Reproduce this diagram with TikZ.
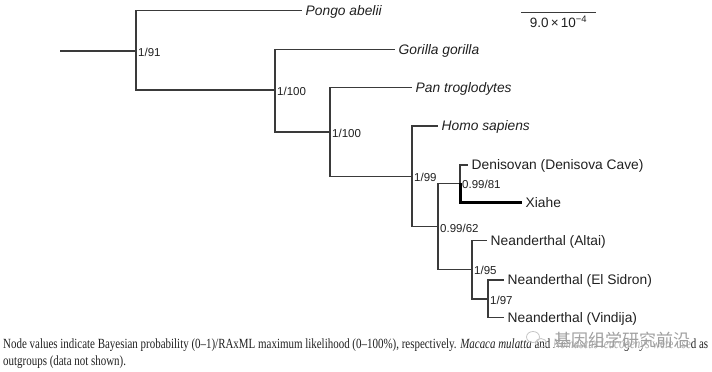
\documentclass[tikz,border=0pt]{standalone}
\usepackage{fontspec}
\usepackage{graphicx}
\setmainfont{Liberation Sans}
\newfontfamily\capfont{Liberation Serif}
\newfontfamily\cjkfont{Noto Sans CJK SC}

\definecolor{treegray}{HTML}{3A3A3A}
\definecolor{textgray}{HTML}{202020}

\tikzset{
  branch/.style={draw=treegray, line width=1.2pt},
  thickbranch/.style={draw=black, line width=3pt},
  taxon/.style={anchor=west, inner xsep=3.5pt, inner ysep=0pt, text height=9.9pt, text depth=0pt,
    font=\fontsize{13.8}{16}\selectfont, text=textgray},
  species/.style={taxon, font=\fontsize{13.8}{16}\selectfont\itshape},
  support/.style={anchor=west, inner xsep=2pt, inner ysep=0pt, text height=8.2pt, text depth=0pt,
    font=\fontsize{11.5}{13}\selectfont, text=textgray},
}

\begin{document}
\begin{tikzpicture}[x=1pt, y=-1pt]
        \useasboundingbox (0,0) rectangle (712,372);

        % internal nodes of the tree
        \coordinate (root) at (60,51);
        \coordinate (n91) at (136,51);
        \coordinate (n100a) at (275,90);
        \coordinate (n100b) at (330,132);
        \coordinate (n99) at (412,176.7);
        \coordinate (n62) at (438,226.7);
        \coordinate (n81) at (460,183.3);
        \coordinate (n95) at (472,269.3);
        \coordinate (n97) at (488,299);

        % tips
        \node[species] (pongo) at (302,10.5) {Pongo abelii};
        \node[species] (gorilla) at (395,49.3) {Gorilla gorilla};
        \node[species] (pan) at (412,87.5) {Pan troglodytes};
        \node[species] (homo) at (438,126) {Homo sapiens};
        \node[taxon] (deni) at (468,165) {Denisovan (Denisova Cave)};
        \node[taxon] (xiahe) at (522,202.7) {Xiahe};
        \node[taxon] (altai) at (487,240.7) {Neanderthal (Altai)};
        \node[taxon] (sidron) at (504,280) {Neanderthal (El Sidron)};
        \node[taxon] (vindija) at (504,317.3) {Neanderthal (Vindija)};

        % branches
        \draw[branch] (root) -- (n91);
        \draw[branch] (n91) |- (pongo.west);
        \draw[branch] (n91) |- (n100a);
        \draw[branch] (n100a) |- (gorilla.west);
        \draw[branch] (n100a) |- (n100b);
        \draw[branch] (n100b) |- (pan.west);
        \draw[branch] (n100b) |- (n99);
        \draw[branch] (n99) |- (homo.west);
        \draw[branch] (n99) |- (n62);
        \draw[branch] (n62) |- (n81);
        \draw[branch] (n81) |- (deni.west);
        \draw[thickbranch] (n81) |- (xiahe.west);
        \draw[branch] (n62) |- (n95);
        \draw[branch] (n95) |- (altai.west);
        \draw[branch] (n95) |- (n97);
        \draw[branch] (n97) |- (sidron.west);
        \draw[branch] (n97) |- (vindija.west);

        % support values
        \node[support] (s91) at (136,52) {1/91};
        \node[support] (s100a) at (275,91) {1/100};
        \node[support] (s100b) at (330,133) {1/100};
        \node[support] (s99) at (412,177) {1/99};
        \node[support] (s62) at (438,228) {0.99/62};
        \node[support] (s81) at (460,184) {0.99/81};
        \node[support] (s95) at (472,270.5) {1/95};
        \node[support] (s97) at (488,300) {1/97};

        % scale bar
        \coordinate (sb0) at (521,12);
        \coordinate (sb1) at (596,12);
        \draw[draw=treegray, line width=1pt] (sb0) -- (sb1);
        \node[font=\fontsize{13.5}{15}\selectfont, text=textgray] (sblabel) at (558.5,22)
          {9.0\,×\,10\textsuperscript{−4}};

        % caption
        \node[anchor=base west, inner sep=0pt, text=textgray] (caption) at (3,348.5)
          {\resizebox{705pt}{\height}{\capfont\fontsize{14}{17}\selectfont
            \begin{tabular}[t]{@{}l@{}}
            Node values indicate Bayesian probability (0–1)/RAxML maximum likelihood (0–100\%), respectively. \textit{Macaca mulatta} and \textit{Nomascus leucogenys} were used as\\
            outgroups (data not shown).
            \end{tabular}}};

        % watermark
        \draw[gray!45, line width=0.8pt] (533,337) ellipse (6.5 and 5.5);
        \draw[gray!45, line width=0.8pt] (541,343) ellipse (5.5 and 4.5);
        \node[text=gray!75, fill=white, fill opacity=0.6, text opacity=1, inner sep=0.5pt,
          font=\cjkfont\fontsize{17}{17}\selectfont] (wmtext) at (622,340) {基因组学研究前沿};
    \end{tikzpicture}
\end{document}
